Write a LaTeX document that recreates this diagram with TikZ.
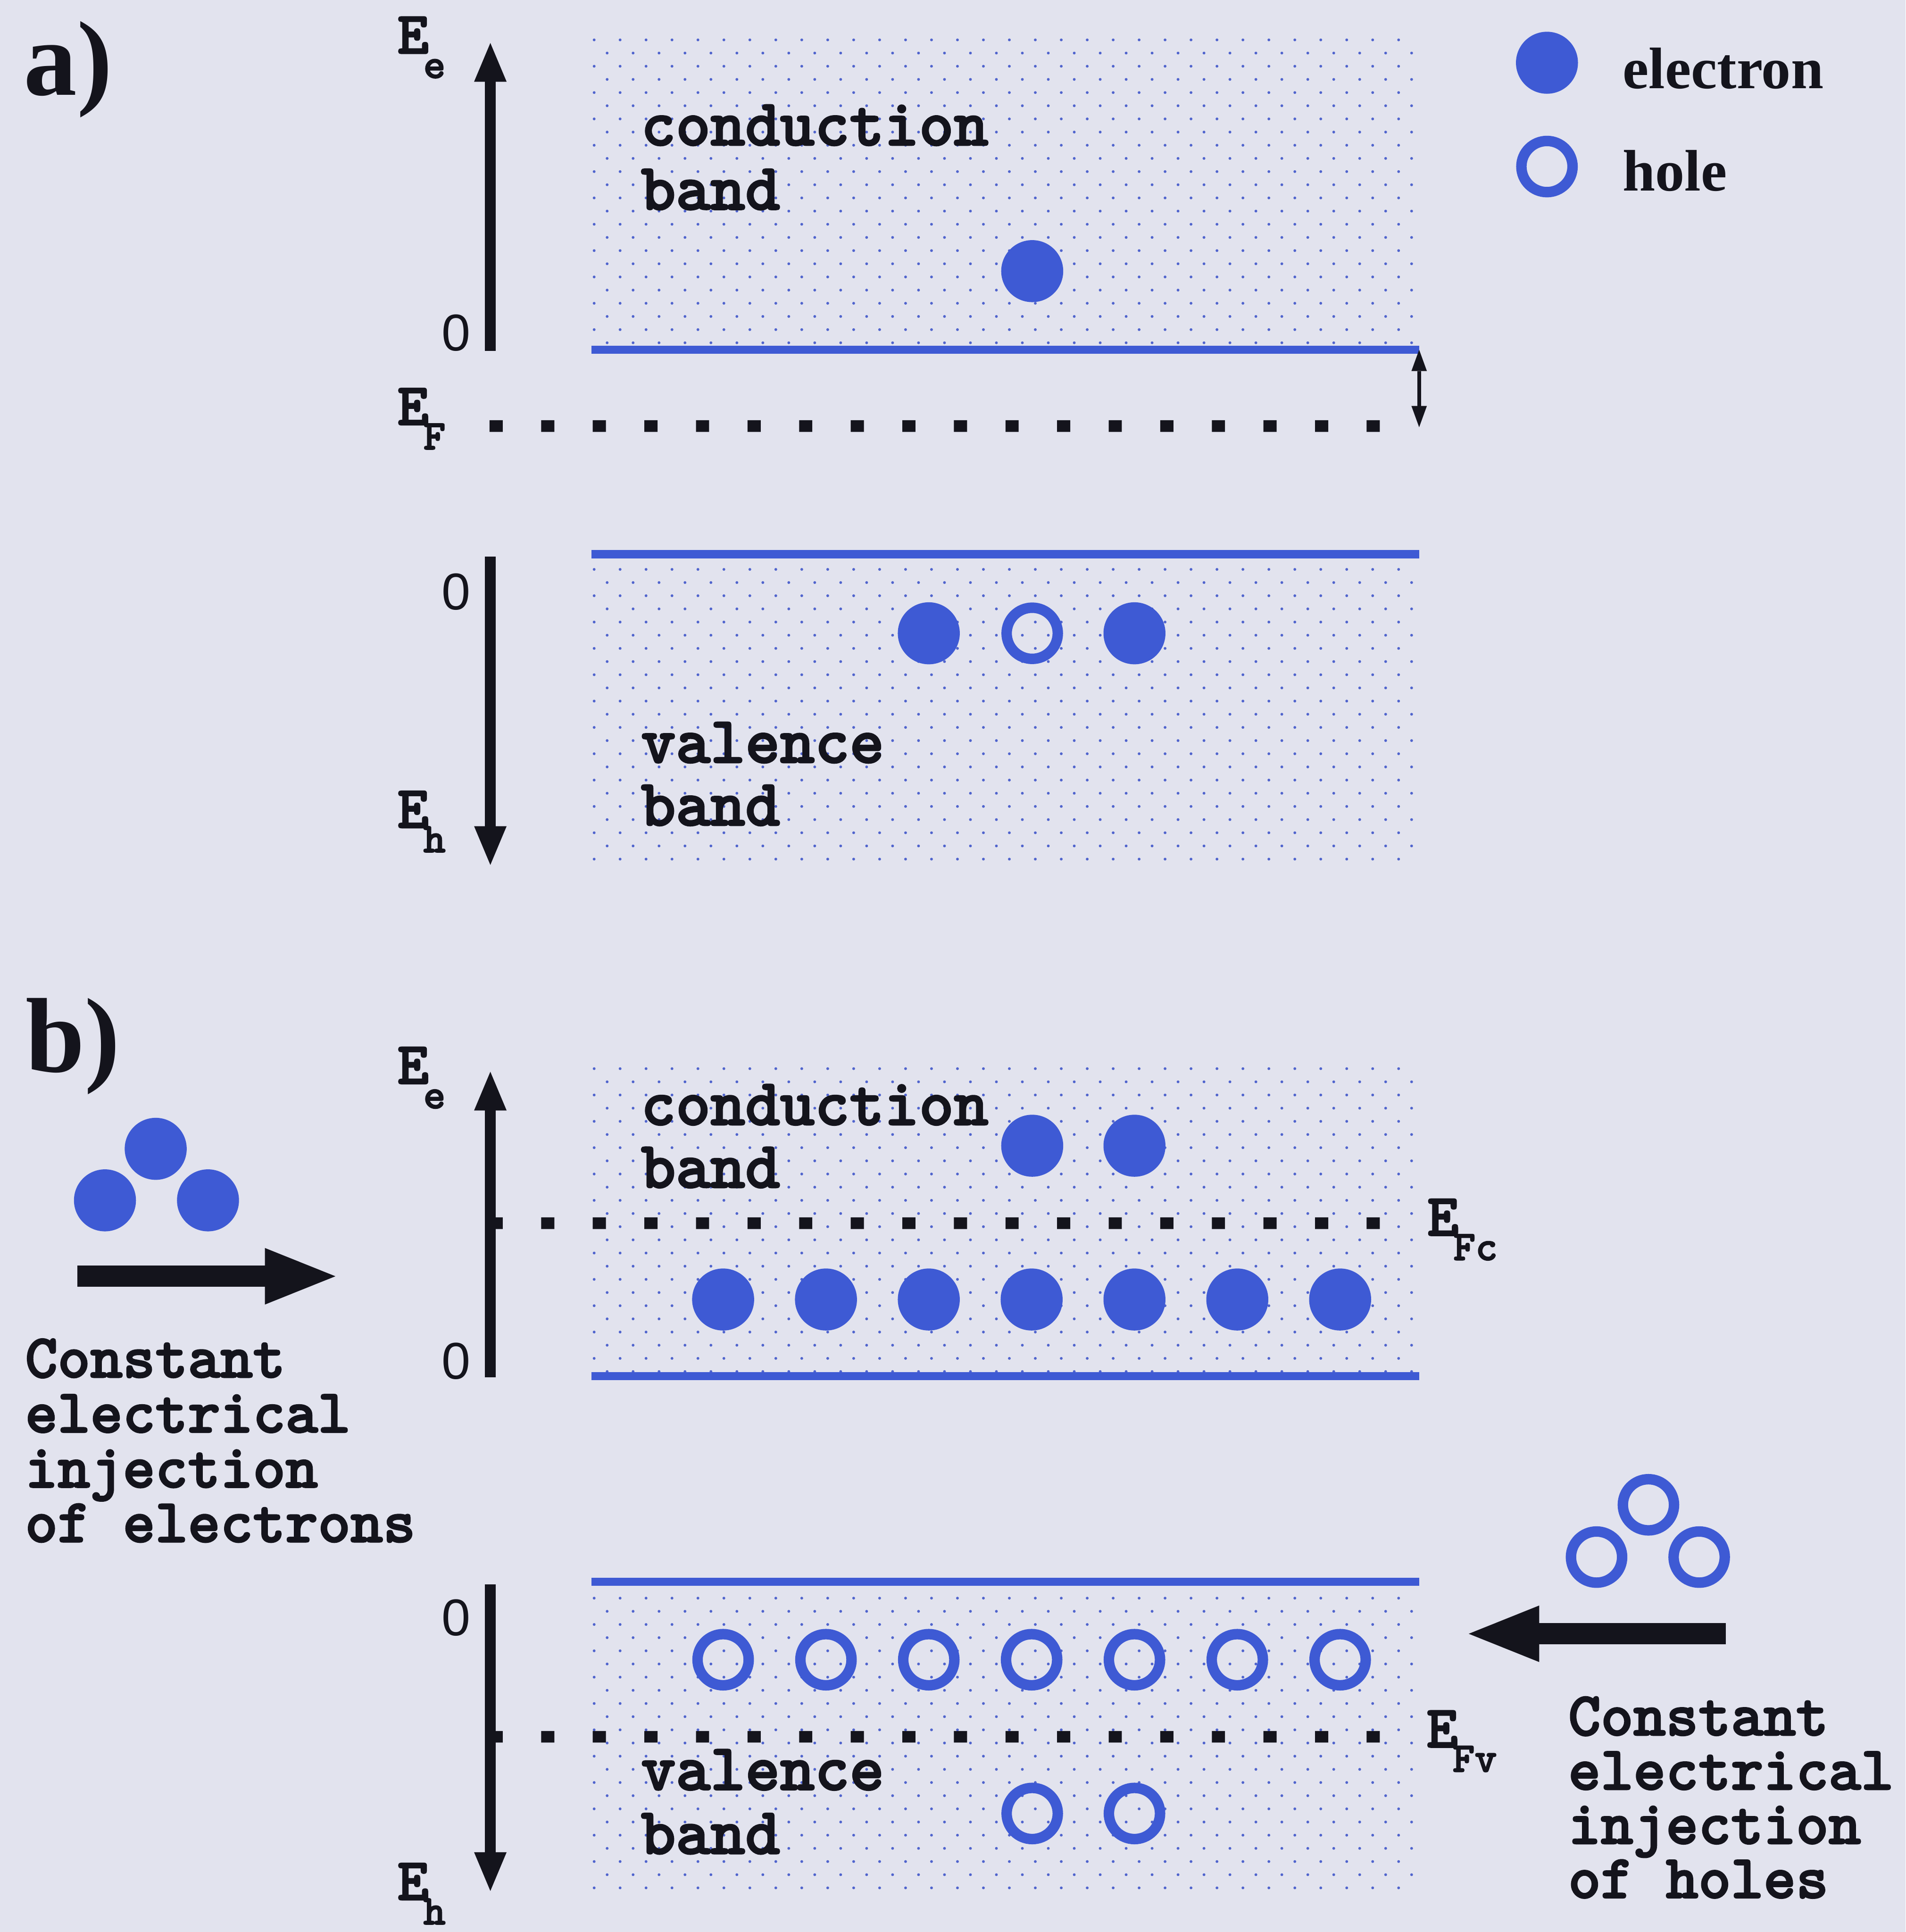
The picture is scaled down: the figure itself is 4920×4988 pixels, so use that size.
\documentclass[tikz,border=0pt]{standalone}
\usepackage{fontspec}
\setmainfont{Liberation Serif}
\newfontfamily\sansfam{Liberation Sans}
\newfontfamily\typew{lmmonolt10-bold.otf}[FakeBold=2.2]
\usetikzlibrary{arrows.meta}
\definecolor{bgc}{RGB}{226,227,238}
\definecolor{bluec}{RGB}{62,90,212}
\definecolor{dotc}{RGB}{80,100,205}
\definecolor{inkc}{RGB}{20,20,28}
\newcommand\dotfield[2]{\fill[dotc] \foreach \r in {0,...,#2}{\foreach \c in {0,...,31}{({1534+67*\c+33.5*mod(\r,2)},{#1+34*\r}) circle (3.6)}};}
\newcommand\fermiline[1]{\fill[inkc] \foreach \k in {0,...,17}{({1264+133.2*\k},{#1-15}) rectangle ++(34,30)};}
\newcommand\Esub[1]{E\kern-4pt\raisebox{-18pt}{\fontsize{31}{31}\selectfont #1}}
\begin{document}
\begin{tikzpicture}[x=0.01cm,y=-0.01cm,
  every node/.style={inner sep=0pt, outer sep=0pt, text=inkc},
  bandtext/.style={anchor=base west, font=\typew\fontsize{48.6}{48.6}\selectfont},
  injtext/.style={anchor=base west, font=\typew\fontsize{45.5}{45.5}\selectfont},
  elabel/.style={anchor=base west, font=\typew\fontsize{44}{44}\selectfont},
  zerolabel/.style={anchor=base, font=\sansfam\fontsize{38}{38}\selectfont},
  panellabel/.style={anchor=base west, font=\bfseries\fontsize{78}{78}\selectfont},
  legendtext/.style={anchor=base west, font=\bfseries\fontsize{43}{43}\selectfont},
  electron/.style={circle, fill=bluec, minimum size=1.6cm},
  hole/.style={circle, draw=bluec, line width=0.27cm, minimum size=1.32cm},
  bandedge/.style={draw=bluec, line width=0.21cm},
  axisarrow/.style={draw=inkc, line width=0.28cm, -{Triangle[length=1cm, width=0.84cm, line width=0pt]}},
  gaparrow/.style={draw=inkc, line width=0.09cm, {Triangle[length=0.55cm, width=0.4cm, line width=0pt]}-{Triangle[length=0.55cm, width=0.4cm, line width=0pt]}},
  injarrow/.style={draw=inkc, line width=0.55cm, -{Triangle[length=1.82cm, width=1.46cm, line width=0pt]}}
]
\fill[bgc] (0,0) rectangle (4920,4988);
\useasboundingbox (0,0) rectangle (4920,4988);

% dotted band regions
\dotfield{103}{23}
\dotfield{1470}{22}
\dotfield{2759}{23}
\dotfield{4126}{22}

% Fermi levels
\fermiline{1100}
\fermiline{3158}
\fermiline{4484}

% band edges
\coordinate (aCBl) at (1527,903);  \coordinate (aCBr) at (3664,903);
\coordinate (aVBl) at (1527,1431); \coordinate (aVBr) at (3664,1431);
\coordinate (bCBl) at (1527,3553); \coordinate (bCBr) at (3664,3553);
\coordinate (bVBl) at (1527,4084); \coordinate (bVBr) at (3664,4084);
\draw[bandedge] (aCBl) -- (aCBr);
\draw[bandedge] (aVBl) -- (aVBr);
\draw[bandedge] (bCBl) -- (bCBr);
\draw[bandedge] (bVBl) -- (bVBr);

% energy axes
\coordinate (aEe0) at (1266,906);  \coordinate (aEe1) at (1266,111);
\coordinate (aEh0) at (1266,1437); \coordinate (aEh1) at (1266,2233);
\coordinate (bEe0) at (1266,3556); \coordinate (bEe1) at (1266,2767);
\coordinate (bEh0) at (1266,4090); \coordinate (bEh1) at (1266,4882);
\draw[axisarrow] (aEe0) -- (aEe1);
\draw[axisarrow] (aEh0) -- (aEh1);
\draw[axisarrow] (bEe0) -- (bEe1);
\draw[axisarrow] (bEh0) -- (bEh1);

% gap arrow
\coordinate (gapT) at (3664,903); \coordinate (gapB) at (3664,1103);
\draw[gaparrow] (gapT) -- (gapB);

% injection arrows
\coordinate (injLs) at (200,3295); \coordinate (injLe) at (866,3295);
\coordinate (injRs) at (4456,4218); \coordinate (injRe) at (3792,4218);
\draw[injarrow] (injLs) -- (injLe);
\draw[injarrow] (injRs) -- (injRe);

% panel labels
\node[panellabel] (pa) at (62,245) {a)};
\node[panellabel] (pb) at (66,2767) {b)};

% axis labels
\node[elabel] (laEe) at (1026,138) {\Esub{e}};
\node[elabel] (laEF) at (1026,1097) {\Esub{F}};
\node[elabel] (laEh) at (1026,2137) {\Esub{h}};
\node[elabel] (lbEe) at (1026,2798) {\Esub{e}};
\node[elabel] (lbEh) at (1026,4905) {\Esub{h}};
\node[elabel] (lbEFc) at (3685,3190) {\Esub{Fc}};
\node[elabel] (lbEFv) at (3683,4511) {\Esub{Fv}};

\node[zerolabel] (za1) at (1178,906) {0};
\node[zerolabel] (za2) at (1178,1574) {0};
\node[zerolabel] (zb1) at (1178,3560) {0};
\node[zerolabel] (zb2) at (1178,4222) {0};

% band names
\node[bandtext] (tCBa1) at (1655,375) {conduction};
\node[bandtext] (tCBa2) at (1655,541) {band};
\node[bandtext] (tVBa1) at (1655,1969) {valence};
\node[bandtext] (tVBa2) at (1655,2131) {band};
\node[bandtext] (tCBb1) at (1655,2904) {conduction};
\node[bandtext] (tCBb2) at (1655,3066) {band};
\node[bandtext] (tVBb1) at (1655,4621) {valence};
\node[bandtext] (tVBb2) at (1655,4786) {band};

% injection texts
\node[injtext] (iL1) at (65,3556) {Constant};
\node[injtext] (iL2) at (65,3698) {electrical};
\node[injtext] (iL3) at (65,3840) {injection};
\node[injtext] (iL4) at (65,3981) {of electrons};
\node[injtext] (iR1) at (4049,4480) {Constant};
\node[injtext] (iR2) at (4049,4620) {electrical};
\node[injtext] (iR3) at (4049,4760) {injection};
\node[injtext] (iR4) at (4049,4900) {of holes};

% legend
\node[electron] (legE) at (3994,162) {};
\node[hole] (legH) at (3994,430) {};
\node[legendtext] (legEt) at (4190,228) {electron};
\node[legendtext] (legHt) at (4190,493) {hole};

% panel a particles
\node[electron] (ea1) at (2665,700) {};
\node[electron] (ea2) at (2398,1635) {};
\node[hole] (ha1) at (2665,1635) {};
\node[electron] (ea3) at (2929,1635) {};

% panel b particles
\node[electron] (eb1) at (2665,2958) {};
\node[electron] (eb2) at (2929,2958) {};
\foreach \i in {0,...,6} {
  \node[electron] (ebr\i) at ({1867+265.5*\i},3355) {};
  \node[hole] (hbr\i) at ({1867+265.5*\i},4285) {};
}
\node[hole] (hb1) at (2665,4682) {};
\node[hole] (hb2) at (2929,4682) {};

% injected groups
\node[electron] (gE1) at (402,2966) {};
\node[electron] (gE2) at (271,3099) {};
\node[electron] (gE3) at (537,3099) {};
\node[hole] (gH1) at (4256,3885) {};
\node[hole] (gH2) at (4122,4020) {};
\node[hole] (gH3) at (4387,4020) {};
\end{tikzpicture}
\end{document}
